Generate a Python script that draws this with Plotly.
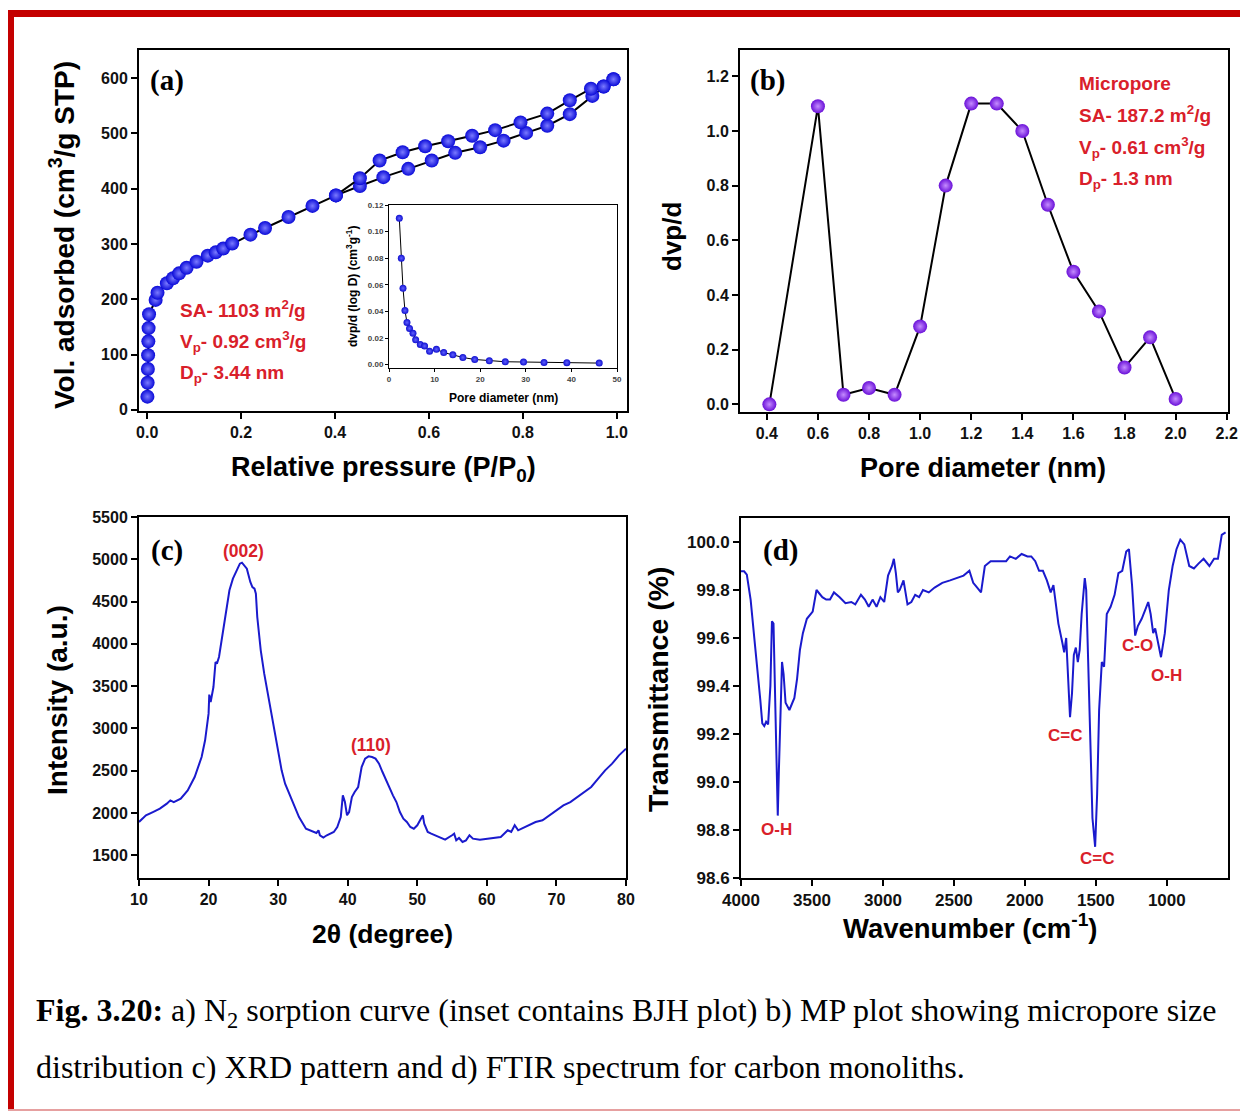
import plotly.graph_objects as go

W, H = 1248, 1112
OFF = 8  # page body margin: figure is drawn 8px right/down in the window

# ---------------- data ----------------
# (a) N2 sorption isotherm
p_ads = [0.0005, 0.001, 0.0015, 0.002, 0.0025, 0.003, 0.004, 0.018, 0.022, 0.042, 0.055, 0.068,
         0.084, 0.105, 0.129, 0.146, 0.162, 0.181, 0.220, 0.251, 0.301, 0.352, 0.402, 0.453,
         0.503, 0.556, 0.606, 0.656, 0.709, 0.759, 0.807, 0.852, 0.900, 0.948, 0.972, 0.993]
v_ads = [24, 49, 74, 99, 124, 148, 173, 199, 212, 229, 238, 247, 257, 268, 279, 285, 292, 301,
         317, 329, 349, 369, 388, 405, 421, 436, 451, 465, 475, 487, 501, 514, 535, 568, 585, 598]
p_des = [0.993, 0.972, 0.945, 0.900, 0.852, 0.795, 0.741, 0.692, 0.641, 0.592, 0.544, 0.495, 0.453, 0.402]
v_des = [598, 585, 581, 560, 536, 520, 506, 496, 486, 477, 466, 451, 419, 388]

# (a) inset BJH
bjh_d = [2.26, 2.7, 3.07, 3.5, 3.94, 4.5, 5.26, 5.84, 6.86, 7.8, 8.9, 10.4, 12.0, 14.0, 16.2,
         18.8, 22.0, 25.5, 29.5, 34.0, 39.0, 46.1]
bjh_v = [0.110, 0.080, 0.0574, 0.0407, 0.0317, 0.0272, 0.0236, 0.0187, 0.0152, 0.014, 0.0101,
         0.0115, 0.0091, 0.0074, 0.0054, 0.0039, 0.0029, 0.0022, 0.0020, 0.0017, 0.0015, 0.0012]

# (b) MP plot
mp_d = [0.41, 0.6, 0.7, 0.8, 0.9, 1.0, 1.1, 1.2, 1.3, 1.4, 1.5, 1.6, 1.7, 1.8, 1.9, 2.0]
mp_v = [0.0, 1.09, 0.035, 0.06, 0.035, 0.285, 0.80, 1.10, 1.10, 1.0, 0.73, 0.485, 0.34, 0.135, 0.245, 0.02]

# (c) XRD
two_theta = [10, 11, 12, 13, 14, 14.5, 15, 16, 17, 18, 19, 19.5, 20, 20.1, 20.3, 20.7, 21, 21.2,
             21.5, 22, 22.5, 23, 23.5, 24, 24.5, 24.8, 25, 25.5, 26, 26.3, 26.6, 26.8, 27, 27.5,
             28, 28.5, 29, 29.5, 30, 30.5, 31, 32, 33, 34, 35, 35.5, 35.8, 36, 36.5, 37, 38, 38.5,
             39, 39.3, 39.6, 39.9, 40.2, 40.6, 41, 41.5, 42, 42.5, 43, 43.5, 44, 44.5, 45, 45.5,
             46, 46.5, 47, 47.5, 48, 48.5, 49, 49.5, 50, 50.5, 50.8, 51, 51.5, 52, 53, 54, 55,
             55.3, 55.6, 56, 56.5, 57, 57.5, 58, 59, 60, 61, 62, 63, 63.5, 64, 64.5, 65, 66, 67,
             68, 69, 70, 71, 72, 73, 74, 75, 76, 77, 78, 79, 80]
intensity = [1894, 1973, 2012, 2052, 2111, 2150, 2130, 2170, 2268, 2426, 2662, 2860, 3175, 3400,
             3313, 3490, 3786, 3766, 3845, 4120, 4397, 4633, 4771, 4869, 4948, 4960, 4940, 4889,
             4732, 4672, 4653, 4594, 4318, 3924, 3648, 3411, 3175, 2938, 2702, 2505, 2347, 2150,
             1953, 1815, 1776, 1764, 1795, 1737, 1709, 1737, 1776, 1835, 1953, 2209, 2130, 1973,
             2012, 2189, 2249, 2308, 2544, 2643, 2670, 2662, 2643, 2584, 2485, 2387, 2308, 2209,
             2130, 2012, 1933, 1894, 1835, 1815, 1855, 1933, 1973, 1874, 1776, 1756, 1717, 1685,
             1737, 1756, 1677, 1705, 1658, 1677, 1737, 1697, 1685, 1697, 1705, 1717, 1796, 1776,
             1855, 1796, 1815, 1855, 1894, 1914, 1973, 2032, 2091, 2130, 2189, 2249, 2308, 2406,
             2505, 2584, 2682, 2761]

# (d) FTIR
wavenumber = [4000, 3978, 3959, 3932, 3905, 3877, 3864, 3850, 3836, 3823, 3809, 3793, 3782, 3771,
              3763, 3755, 3746, 3741, 3733, 3722, 3711, 3700, 3686, 3659, 3640, 3624, 3605, 3585,
              3564, 3536, 3495, 3468, 3427, 3400, 3373, 3345, 3305, 3264, 3223, 3195, 3155, 3127,
              3100, 3073, 3045, 3018, 2991, 2964, 2936, 2923, 2909, 2895, 2882, 2855, 2827, 2800,
              2773, 2745, 2718, 2677, 2636, 2582, 2527, 2473, 2432, 2391, 2364, 2336, 2309, 2282,
              2241, 2200, 2132, 2105, 2064, 2023, 1982, 1955, 1927, 1900, 1873, 1845, 1818, 1799,
              1783, 1764, 1736, 1723, 1709, 1695, 1682, 1668, 1655, 1641, 1627, 1614, 1600, 1578,
              1568, 1554, 1540, 1524, 1505, 1491, 1477, 1458, 1442, 1423, 1396, 1368, 1341, 1314,
              1286, 1267, 1245, 1223, 1204, 1177, 1150, 1131, 1114, 1096, 1082, 1068, 1041, 1014,
              986, 959, 932, 905, 877, 842, 809, 777, 741, 700, 667, 640, 613, 586]
transmittance = [99.878, 99.878, 99.864, 99.759, 99.592, 99.439, 99.342, 99.244, 99.233, 99.251,
                 99.24, 99.40, 99.67, 99.66, 99.45, 99.22, 98.95, 98.86, 99.05, 99.30, 99.50,
                 99.45, 99.33, 99.30, 99.33, 99.35, 99.43, 99.55, 99.62, 99.68, 99.71, 99.80,
                 99.77, 99.76, 99.76, 99.79, 99.77, 99.745, 99.75, 99.74, 99.78, 99.76, 99.73,
                 99.76, 99.73, 99.77, 99.75, 99.86, 99.90, 99.93, 99.87, 99.79, 99.80, 99.84,
                 99.74, 99.75, 99.78, 99.77, 99.80, 99.79, 99.81, 99.83, 99.84, 99.85, 99.86,
                 99.88, 99.83, 99.81, 99.79, 99.90, 99.92, 99.92, 99.92, 99.94, 99.93, 99.95,
                 99.94, 99.94, 99.92, 99.88, 99.88, 99.84, 99.79, 99.82, 99.74, 99.66, 99.58,
                 99.54, 99.60, 99.42, 99.27, 99.37, 99.53, 99.56, 99.50, 99.55, 99.70, 99.85,
                 99.80, 99.50, 99.15, 98.85, 98.73, 98.95, 99.30, 99.50, 99.48, 99.70, 99.73,
                 99.78, 99.87, 99.88, 99.96, 99.97, 99.82, 99.61, 99.65, 99.68, 99.72, 99.75,
                 99.70, 99.62, 99.64, 99.60, 99.52, 99.62, 99.80, 99.90, 99.97, 100.01, 99.99,
                 99.90, 99.89, 99.91, 99.93, 99.90, 99.93, 99.93, 100.03, 100.04]

# ---------------- helpers ----------------
def px(x):
    return (x - OFF) / W

def py(y):
    return 1 - (y - OFF) / H

SANS = "Liberation Sans"
SERIF = "Liberation Serif"
RED = "#d9202a"
BLUE = "#1a1acd"


def axis_style(domain, rng, anchor, tickvals=None, fmt=None, size=16, lw=2, tlen=6, color="#111"):
    d = dict(domain=domain, range=rng, anchor=anchor, showline=True, linecolor="black",
             linewidth=lw, mirror=True, ticks="outside", ticklen=tlen, tickwidth=lw,
             tickcolor="black", showgrid=False, zeroline=False, automargin=False,
             tickfont=dict(family=SANS, size=size, color=color, weight="bold"))
    if tickvals is not None:
        d["tickmode"] = "array"
        d["tickvals"] = tickvals
        if fmt:
            d["ticktext"] = [fmt.format(v) for v in tickvals]
    return d


fig = go.Figure()

# (a) isotherm
sphere_a = dict(size=14, color="#0a0ad8", gradient=dict(type="radial", color="#7a7aff"),
                line=dict(width=0))
fig.add_trace(go.Scatter(x=p_ads, y=v_ads, mode="lines+markers", xaxis="x", yaxis="y",
                         line=dict(color="black", width=2), marker=sphere_a, showlegend=False))
fig.add_trace(go.Scatter(x=p_des, y=v_des, mode="lines+markers", xaxis="x", yaxis="y",
                         line=dict(color="black", width=2), marker=sphere_a, showlegend=False))

# (a) inset
fig.add_trace(go.Scatter(x=bjh_d, y=bjh_v, mode="lines+markers", xaxis="x5", yaxis="y5",
                         line=dict(color="black", width=1),
                         marker=dict(size=7, color="#1010d0", gradient=dict(type="radial", color="#6060ff")),
                         showlegend=False))

# (b) MP
fig.add_trace(go.Scatter(x=mp_d, y=mp_v, mode="lines+markers", xaxis="x2", yaxis="y2",
                         line=dict(color="black", width=2),
                         marker=dict(size=14, color="#6a10d8", gradient=dict(type="radial", color="#c58cff"),
                                     line=dict(width=0)),
                         showlegend=False))

# (c) XRD
fig.add_trace(go.Scatter(x=two_theta, y=intensity, mode="lines", xaxis="x3", yaxis="y3",
                         line=dict(color=BLUE, width=2), showlegend=False))

# (d) FTIR
fig.add_trace(go.Scatter(x=wavenumber, y=transmittance, mode="lines", xaxis="x4", yaxis="y4",
                         line=dict(color=BLUE, width=2), showlegend=False))

layout = dict(
    width=W, height=H, margin=dict(l=0, r=0, t=0, b=0, pad=0, autoexpand=False),
    paper_bgcolor="white", plot_bgcolor="rgba(0,0,0,0)", showlegend=False,
    xaxis=axis_style([px(139), px(627)], [-0.0174, 1.0218], "y", [0, 0.2, 0.4, 0.6, 0.8, 1.0], "{:.1f}"),
    yaxis=axis_style([py(411), py(50)], [-2, 651], "x", [0, 100, 200, 300, 400, 500, 600]),
    xaxis2=axis_style([px(740), px(1228)], [0.295, 2.205], "y2",
                      [0.4, 0.6, 0.8, 1.0, 1.2, 1.4, 1.6, 1.8, 2.0, 2.2], "{:.1f}"),
    yaxis2=axis_style([py(412), py(50)], [-0.028, 1.296], "x2",
                      [0, 0.2, 0.4, 0.6, 0.8, 1.0, 1.2], "{:.1f}"),
    xaxis3=axis_style([px(139), px(626)], [10, 80], "y3", [10, 20, 30, 40, 50, 60, 70, 80]),
    yaxis3=axis_style([py(878), py(517)], [1232, 5500], "x3",
                      [1500, 2000, 2500, 3000, 3500, 4000, 4500, 5000, 5500]),
    xaxis4=axis_style([px(741), px(1228)], [4000, 569], "y4", [4000, 3500, 3000, 2500, 2000, 1500, 1000],
                      size=17),
    yaxis4=axis_style([py(878), py(518)], [98.6, 100.1], "x4",
                      [98.6, 98.8, 99.0, 99.2, 99.4, 99.6, 99.8, 100.0], "{:.1f}", size=17),
    xaxis5=axis_style([px(389), px(617)], [0, 50], "y5", [0, 10, 20, 30, 40, 50], size=8, lw=1, tlen=3,
                      color="#444"),
    yaxis5=axis_style([py(368), py(205)], [-0.0025, 0.12], "x5",
                      [0, 0.02, 0.04, 0.06, 0.08, 0.10, 0.12], "{:.2f}", size=8, lw=1, tlen=3, color="#444"),
)
fig.update_layout(**layout)


def ann(text, x, y, size, color="black", family=SANS, bold=True, angle=0, xanchor="center"):
    fig.add_annotation(text=text, x=px(x), y=py(y), xref="paper", yref="paper", showarrow=False,
                       textangle=angle, xanchor=xanchor, yanchor="middle",
                       font=dict(family=family, size=size, color=color, weight="bold" if bold else "normal"))


# axis titles
ann("Vol. adsorbed (cm<sup>3</sup>/g STP)", 62, 235, 28, angle=-90)
ann("Relative pressure (P/P<sub>0</sub>)", 383, 469, 27)
ann("dvp/d", 672, 237, 26, angle=-90)
ann("Pore diameter (nm)", 983, 468, 27)
ann("Intensity (a.u.)", 57, 700, 28, angle=-90)
ann("2θ (degree)", 382, 934, 26.5)
ann("Transmittance (%)", 658, 690, 28.5, angle=-90)
ann("Wavenumber (cm<sup>-1</sup>)", 970, 926, 27.5)

# inset titles
ann("dvp/d (log D) (cm<sup>3</sup>g<sup>-1</sup>)", 352, 287, 12, angle=-90)
ann("Pore diameter (nm)", 503, 398, 12)

# panel labels
ann("(a)", 167, 80, 29, family=SERIF)
ann("(b)", 768, 80, 29, family=SERIF)
ann("(c)", 167, 550, 29, family=SERIF)
ann("(d)", 780, 550, 29, family=SERIF)

# red notes (a)
ann("SA- 1103 m<sup>2</sup>/g", 178, 309, 19, RED, xanchor="left")
ann("V<sub>p</sub>- 0.92 cm<sup>3</sup>/g", 178, 341, 19, RED, xanchor="left")
ann("D<sub>p</sub>- 3.44 nm", 178, 374, 19, RED, xanchor="left")
# red notes (b)
ann("Micropore", 1077, 83, 19, RED, xanchor="left")
ann("SA- 187.2 m<sup>2</sup>/g", 1077, 114, 19, RED, xanchor="left")
ann("V<sub>p</sub>- 0.61 cm<sup>3</sup>/g", 1077, 147, 19, RED, xanchor="left")
ann("D<sub>p</sub>- 1.3 nm", 1077, 180, 19, RED, xanchor="left")
# (c)
ann("(002)", 243, 551, 17.5, RED)
ann("(110)", 371, 745, 17.5, RED)
# (d)
ann("O-H", 776, 829, 17, RED)
ann("C=C", 1065, 735, 17, RED)
ann("C=C", 1097, 858, 17, RED)
ann("C-O", 1137, 645, 17, RED)
ann("O-H", 1166, 675, 17, RED)

# caption
ann("<b>Fig. 3.20:</b> a) N<sub>2</sub> sorption curve (inset contains BJH plot) b) MP plot showing micropore size",
    34, 1012, 32, family=SERIF, bold=False, xanchor="left")
ann("distribution c) XRD pattern and d) FTIR spectrum for carbon monoliths.",
    34, 1067, 32, family=SERIF, bold=False, xanchor="left")

# border
fig.add_shape(type="rect", xref="paper", yref="paper", x0=px(6), x1=px(1260), y0=py(17), y1=py(10),
              fillcolor="#c40000", line=dict(width=0), layer="above")
fig.add_shape(type="rect", xref="paper", yref="paper", x0=px(6), x1=px(14), y0=py(1109), y1=py(10),
              fillcolor="#c40000", line=dict(width=0), layer="above")
fig.add_shape(type="line", xref="paper", yref="paper", x0=px(6), x1=px(1260), y0=py(1110), y1=py(1110),
              line=dict(color="#e6a0a0", width=2), layer="above")

fig.write_html("out.html")
